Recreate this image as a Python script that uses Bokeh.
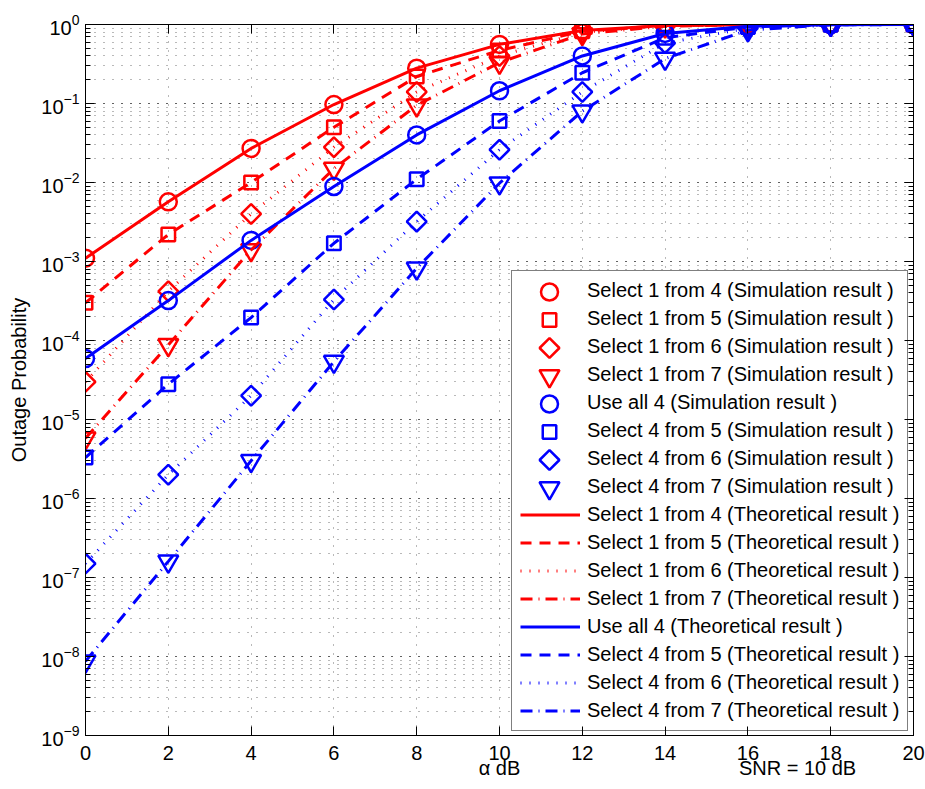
import math
from bokeh.plotting import figure
from bokeh.models import (Legend, LegendItem, LinearAxis, LogAxis, Range1d,
                          FixedTicker, LogTicker, CustomJSTickFormatter, ColumnDataSource)
from bokeh.embed import file_html
from bokeh.resources import INLINE

alpha_db = [0, 2, 4, 6, 8, 10, 12, 14, 16, 18, 20]
x_ticks = [0, 2, 4, 6, 8, 10, 12, 14, 16, 18, 20]

sim_1of4 = [1.1e-3, 5.7e-3, 2.7e-2, 9.7e-2, 0.28, 0.56, 0.84, 0.97, 0.995, 1.0, 1.0]
sim_1of5 = [3.0e-4, 2.2e-3, 1.0e-2, 5.0e-2, 0.22, 0.47, 0.82, 0.97, 0.995, 1.0, 1.0]
sim_1of6 = [3.0e-5, 4.2e-4, 4.0e-3, 2.8e-2, 0.14, 0.40, 0.80, 0.96, 0.995, 1.0, 1.0]
sim_1of7 = [5.8e-6, 8.8e-5, 1.4e-3, 1.5e-2, 0.095, 0.33, 0.76, 0.95, 0.995, 1.0, 1.0]
sim_all4 = [5.9e-5, 3.2e-4, 1.85e-3, 8.9e-3, 0.040, 0.145, 0.40, 0.77, 0.95, 0.995, 1.0]
sim_4of5 = [3.3e-6, 2.8e-5, 1.95e-4, 1.7e-3, 0.011, 0.060, 0.245, 0.68, 0.93, 0.995, 1.0]
sim_4of6 = [1.5e-7, 2.0e-6, 2.0e-5, 3.3e-4, 3.2e-3, 0.026, 0.14, 0.58, 0.90, 0.99, 1.0]
sim_4of7 = [8.7e-9, 1.6e-7, 3.0e-6, 5.4e-5, 8.2e-4, 9.8e-3, 0.080, 0.37, 0.85, 0.99, 1.0]

th_1of4 = [1.1e-3, 5.7e-3, 2.7e-2, 9.7e-2, 0.28, 0.56, 0.84, 0.97, 0.995, 1.0, 1.0]
th_1of5 = [3.0e-4, 2.2e-3, 1.0e-2, 5.0e-2, 0.22, 0.47, 0.82, 0.97, 0.995, 1.0, 1.0]
th_1of6 = [3.0e-5, 4.2e-4, 4.0e-3, 2.8e-2, 0.14, 0.40, 0.80, 0.96, 0.995, 1.0, 1.0]
th_1of7 = [5.8e-6, 8.8e-5, 1.4e-3, 1.5e-2, 0.095, 0.33, 0.76, 0.95, 0.995, 1.0, 1.0]
th_all4 = [5.9e-5, 3.2e-4, 1.85e-3, 8.9e-3, 0.040, 0.145, 0.40, 0.77, 0.95, 0.995, 1.0]
th_4of5 = [3.3e-6, 2.8e-5, 1.95e-4, 1.7e-3, 0.011, 0.060, 0.245, 0.68, 0.93, 0.995, 1.0]
th_4of6 = [1.5e-7, 2.0e-6, 2.0e-5, 3.3e-4, 3.2e-3, 0.026, 0.14, 0.58, 0.90, 0.99, 1.0]
th_4of7 = [8.7e-9, 1.6e-7, 3.0e-6, 5.4e-5, 8.2e-4, 9.8e-3, 0.080, 0.37, 0.85, 0.99, 1.0]

sim_labels = ["Select 1 from 4 (Simulation result )", "Select 1 from 5 (Simulation result )",
              "Select 1 from 6 (Simulation result )", "Select 1 from 7 (Simulation result )",
              "Use all 4 (Simulation result )", "Select 4 from 5 (Simulation result )",
              "Select 4 from 6 (Simulation result )", "Select 4 from 7 (Simulation result )"]
th_labels = ["Select 1 from 4 (Theoretical result )", "Select 1 from 5 (Theoretical result )",
             "Select 1 from 6 (Theoretical result )", "Select 1 from 7 (Theoretical result )",
             "Use all 4 (Theoretical result )", "Select 4 from 5 (Theoretical result )",
             "Select 4 from 6 (Theoretical result )", "Select 4 from 7 (Theoretical result )"]
x_title = "\u03b1 dB"
x_note = "SNR = 10 dB"
y_title = "Outage Probability"

RED = "#ff0000"
BLUE = "#0000ff"
FONT = "Liberation Sans"

W, H = 925, 789
BL, BR, BT, BB = 85, 12, 24, 54
FW, FH = W - BL - BR, H - BT - BB
X0, X1 = 0, 20
LOG_Y0, LOG_Y1 = -9, 0

def px_to_x(px):
    return X0 + (X1 - X0) * px / FW

def px_to_y(py):
    return 10 ** (LOG_Y0 + (LOG_Y1 - LOG_Y0) * py / FH)

p = figure(width=W, height=H, output_backend="svg", toolbar_location=None,
           y_axis_type="log", x_range=Range1d(X0, X1),
           y_range=Range1d(10 ** LOG_Y0, 10 ** LOG_Y1),
           min_border_left=BL, min_border_right=BR, min_border_top=BT, min_border_bottom=BB,
           y_axis_label=y_title)
p.background_fill_color = "white"
p.border_fill_color = "white"
p.outline_line_color = "black"
p.outline_line_width = 1

# grid
p.xgrid.ticker = FixedTicker(ticks=x_ticks)
for g in (p.xgrid, p.ygrid):
    g.grid_line_color = "#000000"
    g.grid_line_alpha = 0.55
    g.grid_line_dash = "1 8"
p.ygrid.minor_grid_line_color = "#000000"
p.ygrid.minor_grid_line_alpha = 0.55
p.ygrid.minor_grid_line_dash = "1 8"

def style_axis(ax):
    ax.axis_line_color = "black"
    ax.axis_line_width = 1
    ax.major_tick_in = 9
    ax.major_tick_out = 0
    ax.major_tick_line_color = "black"
    ax.minor_tick_line_color = "black"
    ax.major_label_text_font = FONT
    ax.major_label_text_font_size = "20px"
    ax.major_label_text_color = "black"
    ax.axis_label_text_font = FONT
    ax.axis_label_text_font_size = "20px"
    ax.axis_label_text_font_style = "normal"
    ax.axis_label_text_color = "black"

xa = p.xaxis[0]
xa.ticker = FixedTicker(ticks=x_ticks)
style_axis(xa)
xa.minor_tick_in = 0
xa.minor_tick_out = 0
xa.major_label_standoff = 10

# second row under the x axis: axis title and the SNR note
note_axis = LinearAxis(ticker=FixedTicker(ticks=[10, 17.2]),
                       major_label_overrides={10: x_title, 17.2: x_note})
style_axis(note_axis)
note_axis.axis_line_color = None
note_axis.major_tick_line_color = None
note_axis.minor_tick_line_color = None
note_axis.major_label_standoff = -6
p.add_layout(note_axis, "below")

ya = p.yaxis[0]
ya.ticker = LogTicker(num_minor_ticks=10)
style_axis(ya)
ya.minor_tick_in = 5
ya.minor_tick_out = 0
ya.major_label_standoff = 6
ya.axis_label_standoff = 8

blank = CustomJSTickFormatter(code="return ''")

top = LinearAxis(ticker=FixedTicker(ticks=x_ticks), formatter=blank)
style_axis(top)
top.minor_tick_in = 0
top.minor_tick_out = 0
top.major_label_standoff = 0
p.add_layout(top, "above")

right = LogAxis(ticker=LogTicker(num_minor_ticks=10), formatter=blank)
style_axis(right)
right.minor_tick_in = 5
right.minor_tick_out = 0
right.major_label_standoff = 0
p.add_layout(right, "right")

# legend geometry (pixels inside the frame, from its bottom-left corner)
LX, LY, PAD, GW, ROW, SP, LW = 426, 4, 8, 60, 23, 5, 395
N_ITEMS = 16
box_top = LY + 2 * PAD + N_ITEMS * ROW + (N_ITEMS - 1) * SP

# white backing of the legend box (hides the grid behind the legend)
p.quad(left=[px_to_x(LX)], right=[px_to_x(LX + LW)], bottom=[px_to_y(LY)],
       top=[px_to_y(box_top)], fill_color="white", line_color=None)

sims = [sim_1of4, sim_1of5, sim_1of6, sim_1of7, sim_all4, sim_4of5, sim_4of6, sim_4of7]
ths = [th_1of4, th_1of5, th_1of6, th_1of7, th_all4, th_4of5, th_4of6, th_4of7]
colors = [RED] * 4 + [BLUE] * 4
markers = ["circle", "square", "square", "inverted_triangle"] * 2
sizes = [17, 13.5, 14, 20] * 2
angles = [0, 0, math.pi / 4, 0] * 2
dashes = ["solid", "11 8", "1 8", "12 6 1 6"] * 2

items = []
for ys, c, m, s, a, lab in zip(sims, colors, markers, sizes, angles, sim_labels):
    p.scatter(alpha_db, ys, marker=m, size=s, angle=a, fill_color=None,
              line_color=c, line_width=2.5)
    # legend key placeholder (the full-size key marker is drawn separately)
    r_key = p.line(alpha_db, ys, line_alpha=0)
    items.append(LegendItem(label=lab, renderers=[r_key]))
for ys, c, d, lab in zip(ths, colors, dashes, th_labels):
    r = p.line(alpha_db, ys, line_color=c, line_width=3, line_dash=d)
    items.append(LegendItem(label=lab, renderers=[r]))

legend = Legend(items=items, location=(LX, LY), orientation="vertical")
legend.label_text_font = FONT
legend.label_text_font_size = "20px"
legend.label_text_color = "black"
legend.glyph_width = GW
legend.glyph_height = ROW
legend.label_height = ROW
legend.label_standoff = 7
legend.spacing = SP
legend.padding = PAD
legend.margin = 0
legend.border_line_color = "black"
legend.border_line_width = 1
legend.background_fill_alpha = 0
p.add_layout(legend, "center")

# full-size marker keys for the simulation rows of the legend
key_px_x = LX + PAD + GW / 2
key_px_y = [box_top - PAD - ROW / 2 - i * (ROW + SP) for i in range(len(sims))]
key_src = ColumnDataSource(dict(x=[px_to_x(key_px_x)] * len(sims),
                                y=[px_to_y(py) for py in key_px_y],
                                marker=markers, size=sizes, angle=angles, color=colors))
p.scatter("x", "y", source=key_src, marker="marker", size="size", angle="angle",
          fill_color=None, line_color="color", line_width=2.5)

open("out.html", "w").write(file_html(p, INLINE))
